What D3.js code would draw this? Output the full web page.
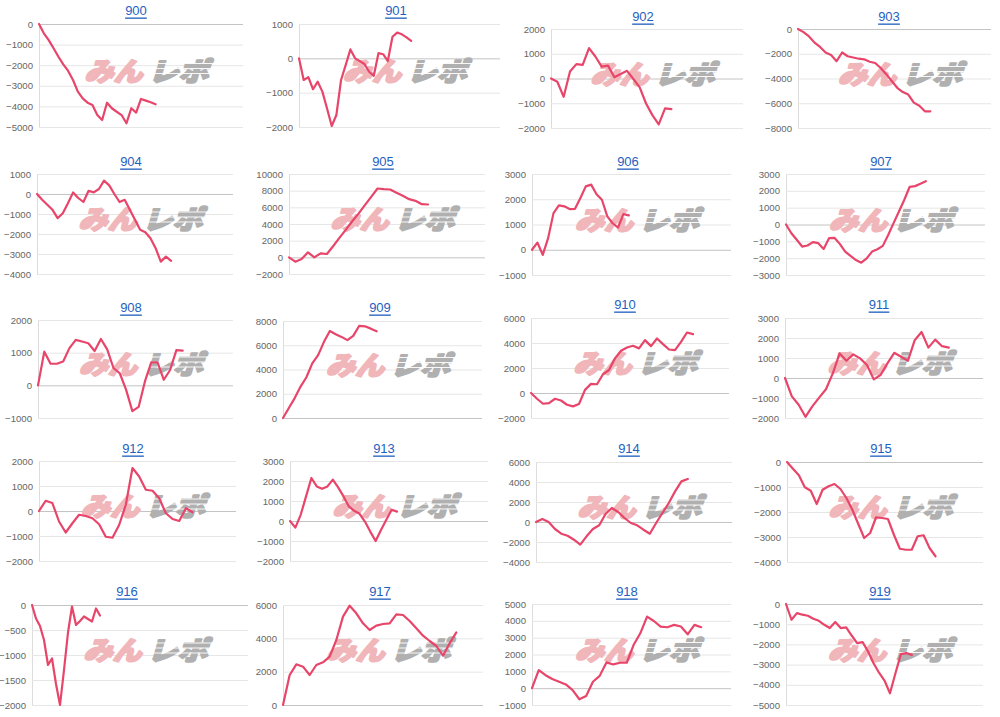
<!DOCTYPE html>
<html><head><meta charset="utf-8">
<script src="https://cdn.jsdelivr.net/npm/d3@7"></script>
<style>body{margin:0;background:#fff}svg{display:block}</style>
</head><body><svg id="c" width="1000" height="717"></svg>
<script>
// ---- data ----
const titles = ["900","901","902","903","904","905","906","907","908","909","910","911","912","913","914","915","916","917","918","919"];

const s900 = [0,-450,-780,-1180,-1590,-1960,-2280,-2720,-3280,-3610,-3820,-3930,-4420,-4660,-3820,-4090,-4260,-4420,-4820,-4090,-4300,-3640,-3720,-3800,-3900];
const s901 = [0,-630,-550,-900,-680,-970,-1460,-1970,-1650,-630,-190,260,0,-80,-165,-390,-510,150,120,-80,630,750,700,610,510];
const s902 = [0,-130,-740,280,580,550,1230,890,480,520,50,180,310,-20,-360,-1010,-1480,-1850,-1210,-1240];
const s903 = [0,-250,-600,-1100,-1450,-1900,-2100,-2600,-1900,-2200,-2300,-2400,-2450,-2650,-2750,-3150,-3650,-4200,-4750,-5100,-5300,-5950,-6200,-6650,-6650];
const s904 = [0,-290,-540,-790,-1210,-960,-460,80,-200,-400,160,80,250,670,430,0,-400,-290,-790,-1290,-1790,-1910,-2210,-2710,-3380,-3130,-3340];
const s905 = [0,-520,-200,600,0,480,400,1360,2370,3330,4330,5250,6260,7260,8260,8180,8140,7740,7380,6980,6780,6380,6340];
const s906 = [0,285,-205,460,1450,1760,1720,1610,1620,2050,2510,2580,2200,1980,1320,1050,880,1410,1360];
const s907 = [0,-520,-910,-1310,-1250,-1050,-1110,-1450,-810,-790,-1150,-1610,-1870,-2110,-2270,-2010,-1610,-1470,-1270,-620,80,770,1470,2240,2280,2420,2570];
const s908 = [0,1030,660,660,730,1140,1390,1340,1290,1050,1420,1100,530,370,-130,-790,-660,120,700,700,170,470,1080,1060];
const s909 = [0,820,1640,2590,3360,4500,5190,6280,7180,6910,6690,6420,6770,7590,7560,7370,7150];
const s910 = [0,-460,-860,-810,-460,-600,-940,-1070,-880,250,730,700,1500,1840,2770,3380,3640,3780,3570,4230,3750,4360,3910,3480,3430,4090,4840,4710];
const s911 = [0,-920,-1340,-1940,-1420,-980,-560,230,1230,860,1180,980,650,-70,150,730,1260,1060,860,1890,2300,1520,1920,1590,1520];
const s912 = [0,410,320,-420,-860,-490,-150,-200,-290,-530,-1030,-1070,-560,250,1720,1380,850,810,510,-90,-320,-400,110,-50];
const s913 = [0,-330,310,1230,2150,1730,1610,1730,2070,1680,1230,730,510,360,-30,-530,-1000,-450,60,560,470];
const s914 = [0,300,0,-700,-1170,-1370,-1770,-2260,-1430,-700,-330,800,1400,1000,400,-100,-330,-770,-1170,-100,900,1900,3060,4060,4300];
const s915 = [0,-270,-530,-1010,-1150,-1680,-1110,-970,-880,-1080,-1440,-1910,-2480,-3040,-2840,-2210,-2240,-2280,-2910,-3470,-3510,-3510,-2970,-2930,-3440,-3770];
const s916 = [0,-270,-420,-700,-1200,-1070,-1580,-2000,-1300,-550,-30,-400,-320,-230,-280,-330,-70,-210];
const s917 = [0,1800,2440,2300,1800,2400,2560,2900,3900,5300,5960,5500,4900,4500,4760,4860,4900,5440,5400,5040,4600,4160,3840,3540,2960,3700,4360];
const s918 = [0,1070,770,540,380,220,-120,-660,-460,380,730,1530,1410,1510,1510,2560,3260,4250,3990,3660,3620,3760,3660,3200,3760,3620];
const s919 = [0,-780,-450,-530,-580,-730,-830,-1030,-1190,-890,-1190,-1160,-1560,-1940,-1890,-2350,-2930,-3400,-3790,-4420,-3430,-2480,-2430,-2520];
const series = [s900,s901,s902,s903,s904,s905,s906,s907,s908,s909,s910,s911,s912,s913,s914,s915,s916,s917,s918,s919];

// number of x-category intervals spanned by each panel's axis
const xSpan = [42,43,30.3,35,38,31,37,37,31,34,33,29,29.5,37,31,33,54,30,29.4,36];

const t900 = [0,-1000,-2000,-3000,-4000,-5000];
const t901 = [1000,0,-1000,-2000];
const t902 = [2000,1000,0,-1000,-2000];
const t903 = [0,-2000,-4000,-6000,-8000];
const t904 = [1000,0,-1000,-2000,-3000,-4000];
const t905 = [10000,8000,6000,4000,2000,0,-2000];
const t906 = [3000,2000,1000,0,-1000];
const t907 = [3000,2000,1000,0,-1000,-2000,-3000];
const t908 = [2000,1000,0,-1000];
const t909 = [8000,6000,4000,2000,0];
const t910 = [6000,4000,2000,0,-2000];
const t911 = [3000,2000,1000,0,-1000,-2000];
const t912 = [2000,1000,0,-1000,-2000];
const t913 = [3000,2000,1000,0,-1000,-2000];
const t914 = [6000,4000,2000,0,-2000,-4000];
const t915 = [0,-1000,-2000,-3000,-4000];
const t916 = [0,-500,-1000,-1500,-2000];
const t917 = [6000,4000,2000,0];
const t918 = [5000,4000,3000,2000,1000,0,-1000];
const t919 = [0,-1000,-2000,-3000,-4000,-5000];
const ticks = [t900,t901,t902,t903,t904,t905,t906,t907,t908,t909,t910,t911,t912,t913,t914,t915,t916,t917,t918,t919];

// ---- layout (plot left, right, top, bottom, title x, title y) ----
const layout = [
  [39,243,24,127,136,10],[299,500,24,127,396,10],[551,743,29,128,643,16],[798,991,29,128,889,16],
  [37,233,174,274,131,161],[289,485,174,274,383,161],[532,731,174,275,628,161],[786,985,174,275,881,161],
  [38,233,320,418,131,307],[283,482,321,418,380,307],[531,729,318,418,625,304],[785,983,318,418,879,304],
  [39,236,461,561,133,448],[290,488,461,561,384,448],[536,732,462,562,629,448],[787,983,462,562,881,448],
  [32,248,605,705,127,591],[283,483,605,705,380,591],[532,731,604,705,627,591],[786,983,604,705,880,591]
];

const svg = d3.select("#c");
const LINE = "#e8456a";

titles.forEach((t, i) => {
  const [L,R,T,B,tx,ty] = layout[i];
  const g = svg.append("g");
  const x = d3.scaleLinear().domain([0, xSpan[i]]).range([L, R]);
  const y = d3.scaleLinear().domain(d3.extent(ticks[i])).range([B, T]);

  const ax = g.append("g").attr("transform", `translate(${L},0)`)
    .call(d3.axisLeft(y).tickValues(ticks[i]).tickSize(-(R - L)).tickSizeOuter(0).tickPadding(6).tickFormat(d3.format("d")));
  ax.select(".domain").attr("stroke", "#dcdcdc").attr("stroke-width", 1);
  ax.selectAll(".tick line").attr("stroke", d => d === 0 ? "#c4c4c4" : "#e6e6e6").attr("stroke-width", 1);
  ax.selectAll(".tick text").attr("fill", "#666").style("font-family", "'Liberation Sans', Arial, sans-serif").style("font-size", "9.6px");

  // watermark
  const cx = (L + R) / 2 + 8, cy = (T + B) / 2 - 7;
  const wm = g.append("g").attr("transform", `translate(${cx},${cy}) skewX(-16)`);
  const wstyle = sel => sel.attr("y", 1).attr("dominant-baseline", "central")
    .attr("lengthAdjust", "spacingAndGlyphs")
    .style("font-family", "'Noto Sans CJK JP', sans-serif").style("font-weight", 900).style("font-size", "26px")
    .attr("stroke-width", 2.0).attr("stroke-linejoin", "round");
  wm.append("text").call(wstyle).attr("x", -3).attr("text-anchor", "end").attr("textLength", 58)
    .attr("fill", "#f0b6ba").attr("stroke", "#f0b6ba").text("みん");
  wm.append("text").call(wstyle).attr("x", 3).attr("text-anchor", "start").attr("textLength", 60)
    .attr("fill", "#b0b0b0").attr("stroke", "#b0b0b0").text("レポ");
  [-5, 0, 5].forEach(dy => wm.append("line").attr("x1", 4).attr("x2", 66).attr("y1", dy).attr("y2", dy)
    .attr("stroke", "#fff").attr("stroke-width", 1.1).attr("opacity", 0.9));

  // line
  g.append("path").datum(series[i])
    .attr("fill", "none").attr("stroke", LINE).attr("stroke-width", 2.2)
    .attr("stroke-linejoin", "round").attr("stroke-linecap", "round")
    .attr("d", d3.line().x((d, j) => x(j)).y(d => y(d)));

  // title
  g.append("text").attr("x", tx).attr("y", ty).attr("text-anchor", "middle").attr("dominant-baseline", "central")
    .style("font-family", "'Liberation Sans', Arial, sans-serif").style("font-size", "13px")
    .style("text-decoration", "underline").attr("fill", "#1f5fbf").text(t);
});
</script></body></html>
